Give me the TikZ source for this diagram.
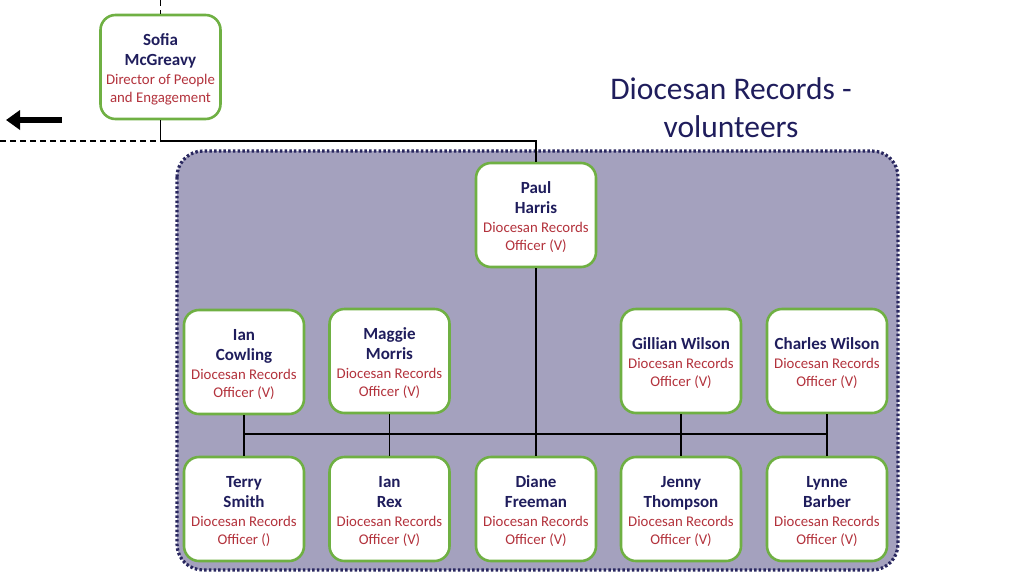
\documentclass[tikz,border=0pt]{standalone}
\usepackage{fontspec}
\setmainfont{Carlito}
\usetikzlibrary{arrows.meta}
\definecolor{namec}{HTML}{1F1D5C}
\definecolor{rolec}{HTML}{B3323C}
\definecolor{boxgreen}{HTML}{6FB043}
\definecolor{contfill}{HTML}{A4A1BE}
\definecolor{contborder}{HTML}{29275F}
\newcommand\nm[1]{{\fontsize{17}{18}\selectfont\bfseries\color{namec}\strut#1}}
\newcommand\rl[1]{{\color{rolec}\strut#1}}
\tikzset{
  card/.style={draw=boxgreen, line width=2.6pt, rounded corners=15pt, fill=white,
    minimum width=120pt, minimum height=104pt, inner sep=0pt},
  cardtext/.style={align=center, inner sep=0pt, font=\fontsize{14.8}{18}\selectfont},
  conn/.style={line width=1.8pt, draw=black},
  dashconn/.style={line width=1.6pt, draw=black, dash pattern=on 6pt off 4pt},
}
\begin{document}
\begin{tikzpicture}[x=1pt,y=-1pt]
\useasboundingbox (0,0) rectangle (1024,576);
% container
\draw[fill=contfill, draw=contborder, line width=3.2pt, dash pattern=on 2.5pt off 2.2pt, rounded corners=26pt]
  (177,151) rectangle (898,570);
% title
\node[align=center, font=\fontsize{31.5}{38}\selectfont, text=namec] (title) at (731,108)
  {Diocesan Records -\\volunteers};
% cards
\node[card] (sofia) at (160.5,67) {};
\node[card] (paul) at (536,215) {};
\node[card] (cowling) at (244,362) {};
\node[card] (maggie) at (389.5,361) {};
\node[card] (gillian) at (681,361) {};
\node[card] (charles) at (827,361) {};
\node[card] (terry) at (244,509) {};
\node[card] (rex) at (389.5,509) {};
\node[card] (diane) at (536,509) {};
\node[card] (jenny) at (681,509) {};
\node[card] (lynne) at (827,509) {};
% card texts
\node[cardtext] (sofia-t) at ([yshift=-3pt]sofia.center) {\nm{Sofia}\\[2pt]\nm{McGreavy}\\[1pt]\rl{Director of People}\\\rl{and Engagement}};
\node[cardtext] (paul-t) at ([yshift=-3pt]paul.center) {\nm{Paul}\\[2pt]\nm{Harris}\\[1pt]\rl{Diocesan Records}\\\rl{Officer (V)}};
\node[cardtext] (cowling-t) at ([yshift=-3pt]cowling.center) {\nm{Ian}\\[2pt]\nm{Cowling}\\[1pt]\rl{Diocesan Records}\\\rl{Officer (V)}};
\node[cardtext] (maggie-t) at ([yshift=-3pt]maggie.center) {\nm{Maggie}\\[2pt]\nm{Morris}\\[1pt]\rl{Diocesan Records}\\\rl{Officer (V)}};
\node[cardtext] (gillian-t) at ([yshift=-3pt]gillian.center) {\nm{Gillian Wilson}\\[1pt]\rl{Diocesan Records}\\\rl{Officer (V)}};
\node[cardtext] (charles-t) at ([yshift=-3pt]charles.center) {\nm{Charles Wilson}\\[1pt]\rl{Diocesan Records}\\\rl{Officer (V)}};
\node[cardtext] (terry-t) at ([yshift=-3pt]terry.center) {\nm{Terry}\\[2pt]\nm{Smith}\\[1pt]\rl{Diocesan Records}\\\rl{Officer ()}};
\node[cardtext] (rex-t) at ([yshift=-3pt]rex.center) {\nm{Ian}\\[2pt]\nm{Rex}\\[1pt]\rl{Diocesan Records}\\\rl{Officer (V)}};
\node[cardtext] (diane-t) at ([yshift=-3pt]diane.center) {\nm{Diane}\\[2pt]\nm{Freeman}\\[1pt]\rl{Diocesan Records}\\\rl{Officer (V)}};
\node[cardtext] (jenny-t) at ([yshift=-3pt]jenny.center) {\nm{Jenny}\\[2pt]\nm{Thompson}\\[1pt]\rl{Diocesan Records}\\\rl{Officer (V)}};
\node[cardtext] (lynne-t) at ([yshift=-3pt]lynne.center) {\nm{Lynne}\\[2pt]\nm{Barber}\\[1pt]\rl{Diocesan Records}\\\rl{Officer (V)}};
% coordinates
\coordinate (topend) at (160.5,0);
\coordinate (corner) at (160.5,141);
\coordinate (leftend) at (0,141);
\coordinate (busL) at (244,434);
\coordinate (busR) at (827,434);
\coordinate (arrS) at (62,120);
\coordinate (arrE) at (6,120);
% connectors
\draw[dashconn] (topend) -- (sofia.north);
\draw[dashconn] (leftend) -- (corner);
\draw[conn] (sofia.south) -- (corner) -| (paul.north);
\draw[conn] (paul.south) -- (diane.north);
\draw[conn] (busL) -- (busR);
\foreach \n in {cowling,maggie,gillian,charles}
  \draw[conn] (\n.south) -- (\n.south |- busL);
\foreach \n in {terry,rex,jenny,lynne}
  \draw[conn] (\n.north) -- (\n.north |- busL);
% arrow
\draw[line width=6.5pt, -{Triangle[length=14pt,width=19pt]}] (arrS) -- (arrE);
\end{tikzpicture}
\end{document}
